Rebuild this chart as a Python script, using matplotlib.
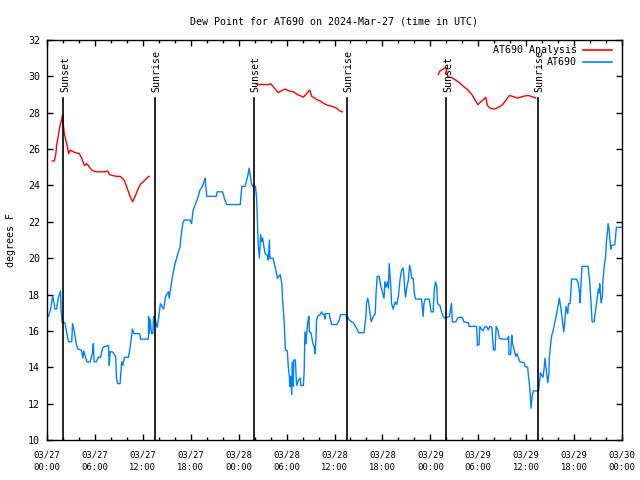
import numpy as np
import matplotlib
matplotlib.use("Agg")
import matplotlib.pyplot as plt
import matplotlib.transforms as mtransforms

nan = np.nan

# hours since 2024-03-27 00:00 UTC
obs_hours = [0.0, 0.2, 0.45, 0.7, 0.85, 1.0, 1.2, 1.4, 1.7, 1.75, 1.9, 2.25, 2.55, 2.7, 3.1, 3.2, 3.4,
             3.7, 3.9, 4.3, 4.5, 4.6, 5.0, 5.4, 5.7, 5.8, 5.9, 6.2, 6.4, 6.7, 7.0, 7.7, 7.8, 7.9, 8.2,
             8.6, 8.7, 8.85, 9.15, 9.35, 9.5, 9.7, 10.2, 10.4, 10.5, 10.7, 10.9, 11.6, 11.7, 12.7,
             12.72, 12.8, 12.9, 13.1, 13.25, 13.35, 13.5, 13.8, 14.0, 14.2, 14.6, 14.85, 15.2, 15.3,
             15.5, 15.75, 16.0, 16.2, 16.45, 16.65, 16.85, 17.05, 17.2, 17.9, 18.1, 18.3, 18.6, 18.95,
             19.15, 19.4, 19.7, 19.8, 19.9, 20.0, 21.2, 21.3, 22.0, 22.2, 22.5, 24.2, 24.3, 24.4, 24.8,
             25.0, 25.2, 25.3, 25.45, 25.6, 25.75, 26.1, 26.25, 26.35, 26.45, 26.6, 26.75, 26.9, 27.0,
             27.3, 27.6, 27.7, 27.85, 27.9, 28.3, 28.7, 28.85, 29.2, 29.4, 29.5, 29.7, 29.8, 29.85,
             30.1, 30.2, 30.35, 30.4, 30.5, 30.65, 30.7, 30.85, 30.9, 31.1, 31.25, 31.5, 31.7, 31.8,
             32.1, 32.2, 32.3, 32.45, 32.5, 32.65, 32.8, 32.85, 33.05, 33.3, 33.45, 33.55, 33.7, 33.75,
             33.9, 34.2, 34.4, 34.55, 34.7, 34.8, 34.85, 35.35, 35.5, 35.65, 36.3, 36.6, 36.75, 37.45,
             37.5, 37.7, 37.85, 38.15, 38.35, 38.55, 38.75, 39.05, 39.7, 39.8, 39.95, 40.0, 40.15, 40.3,
             40.45, 40.6, 40.85, 41.1, 41.2, 41.35, 41.6, 41.8, 42.05, 42.2, 42.3, 42.45, 42.6, 42.75,
             42.85, 43.05, 43.15, 43.35, 43.6, 43.8, 44.0, 44.2, 44.4, 44.6, 44.7, 44.8, 44.9, 45.0,
             45.25, 45.4, 45.55, 45.65, 45.85, 46.0, 46.15, 46.9, 47.05, 47.1, 47.2, 47.35, 47.85, 48.1,
             48.35, 48.5, 48.65, 48.8, 48.9, 49.2, 49.4, 49.6, 49.85, 50.4, 50.55, 50.65, 50.75, 51.2,
             51.35, 51.55, 52.0, 52.2, 52.75, 52.85, 53.8, 53.9, 54.1, 54.2, 54.4, 54.6, 54.8, 55.05,
             55.25, 55.45, 55.7, 55.8, 55.9, 56.1, 56.25, 56.45, 56.65, 56.95, 57.65, 57.8, 57.85, 58.05,
             58.2, 58.3, 58.5, 58.7, 58.85, 59.05, 59.2, 59.75, 59.85, 60.2, 60.25, 60.4, 60.5, 60.6,
             60.75, 60.9, 61.55, 61.7, 61.8, 61.95, 62.1, 62.25, 62.35, 62.45, 62.6, 62.7, 62.85, 62.9,
             63.1, 63.2, 63.4, 63.55, 63.7, 63.85, 64.05, 64.15, 64.35, 64.55, 64.7, 64.8, 65.0, 65.2,
             65.3, 65.5, 65.6, 65.7, 66.3, 66.5, 66.7, 66.75, 66.9, 67.0, 67.75, 67.95, 68.15, 68.25,
             68.5, 68.6, 68.8, 68.95, 69.05, 69.15, 69.2, 69.35, 69.4, 69.55, 69.6, 69.75, 69.95, 70.05,
             70.2, 70.25, 70.4, 70.45, 70.6, 70.7, 71.1, 71.2, 71.3, 72.0]
obs_dewpt = [16.8, 16.8, 17.2, 17.9, 17.6, 17.2, 17.2, 17.8, 18.2, 17.2, 16.45, 16.45, 15.7, 15.4, 15.4,
             16.4, 16.0, 15.2, 15.0, 14.95, 14.5, 14.9, 14.3, 14.3, 14.8, 15.3, 14.3, 14.3, 14.55, 14.55,
             15.1, 15.2, 14.1, 14.85, 14.85, 14.6, 13.4, 13.1, 13.1, 14.3, 14.1, 14.55, 14.55, 15.05,
             15.4, 16.1, 15.85, 15.85, 15.55, 15.55, 16.8, 15.85, 16.65, 15.85, 15.85, 16.8, 16.7, 16.2,
             16.8, 17.5, 17.2, 17.9, 18.15, 17.8, 18.4, 19.1, 19.65, 19.95, 20.35, 20.6, 21.45, 22.0,
             22.1, 22.1, 21.9, 22.65, 23.0, 23.4, 23.75, 23.9, 24.25, 24.4, 23.9, 23.4, 23.4, 23.65,
             23.65, 23.3, 22.95, 22.95, 23.5, 23.95, 23.95, 24.3, 24.65, 24.95, 24.6, 24.1, 23.95, 23.95,
             23.3, 22.0, 20.7, 20.0, 21.3, 20.9, 21.1, 20.25, 20.15, 19.9, 21.0, 20.0, 20.0, 19.25, 18.9,
             19.1, 18.6, 17.7, 16.5, 15.5, 14.95, 14.9, 14.1, 13.5, 12.95, 13.5, 12.5, 14.3, 12.95, 14.4,
             14.4, 13.0, 13.3, 13.4, 13.0, 13.0, 13.75, 15.95, 15.3, 15.8, 16.5, 16.8, 15.95, 15.9, 15.3,
             15.15, 14.75, 15.7, 16.6, 16.8, 16.9, 17.05, 16.9, 16.9, 16.65, 16.95, 16.95, 16.6, 16.35,
             16.35, 16.6, 16.9, 16.9, 16.65, 16.75, 16.6, 16.5, 16.45, 16.3, 16.15, 15.9, 15.9, 16.3,
             16.9, 17.5, 17.8, 17.5, 16.95, 16.5, 16.8, 16.95, 18.05, 19.0, 19.0, 18.45, 18.05, 17.8,
             18.7, 18.4, 18.7, 18.35, 19.7, 18.45, 17.5, 17.2, 17.6, 17.45, 17.9, 18.8, 19.35, 19.45,
             19.0, 18.25, 17.85, 18.25, 18.8, 19.6, 19.35, 18.9, 18.9, 18.05, 17.75, 17.75, 17.0, 16.8,
             17.5, 17.75, 17.75, 17.05, 17.05, 18.3, 18.7, 18.45, 17.5, 17.4, 17.05, 16.8, 16.7, 16.8,
             17.25, 17.5, 16.5, 16.5, 16.65, 16.75, 16.75, 16.5, 16.45, 16.25, 16.25, 15.2, 15.25, 16.25,
             16.1, 16.0, 16.2, 16.25, 16.05, 16.25, 16.2, 15.6, 14.95, 14.95, 16.25, 16.05, 15.6, 15.55,
             15.55, 15.7, 14.7, 14.7, 15.75, 15.3, 14.95, 14.6, 14.75, 14.5, 14.3, 14.25, 14.05, 14.0,
             13.65, 13.1, 12.55, 11.75, 12.4, 12.7, 12.7, 13.3, 13.7, 13.55, 13.45, 13.95, 14.5, 14.1,
             13.5, 13.15, 13.65, 14.55, 15.4, 15.75, 16.05, 16.4, 16.7, 17.05, 17.5, 17.8, 17.25, 16.5,
             15.95, 16.3, 17.35, 16.95, 17.5, 17.5, 18.15, 18.85, 18.85, 18.65, 18.05, 17.55, 18.85,
             19.55, 19.55, 18.75, 17.35, 16.5, 16.5, 16.85, 17.5, 17.95, 18.3, 18.1, 18.6, 17.75, 17.55,
             17.9, 18.7, 19.45, 20.1, 20.9, 21.55, 21.9, 21.55, 21.15, 20.5, 20.7, 20.75, 21.2, 21.7,
             21.7]

# analysis series, nan separates the three runs
ana_hours = [0.65, 0.9, 1.1, 1.2, 1.4, 1.55, 1.7, 1.85, 1.95, 2.05, 2.15, 2.35, 2.55, 2.7, 2.9, 3.3,
             3.6, 4.05, 4.35, 4.55, 4.7, 4.95, 5.15, 5.4, 5.6, 5.8, 6.2, 7.25, 7.5, 7.7, 7.8, 8.2, 8.7,
             9.15, 9.55, 9.75, 10.0, 10.2, 10.4, 10.7, 10.95, 11.25, 11.5, 11.75, 12.05, 12.4, 12.6,
             12.8, nan,
             26.2, 27.75, 28.0, 28.4, 28.95, 29.3, 29.8, 30.3, 30.85, 31.35, 31.9, 32.1, 32.9, 33.15,
             33.65, 34.2, 34.7, 35.2, 35.7, 36.25, 36.65, 37.0, nan,
             49.0, 49.2, 49.6, 49.95, 50.2, 50.6, 51.15, 51.65, 52.15, 52.7, 53.2, 53.6, 53.95, 54.2,
             54.6, 54.95, 55.15, 55.5, 56.0, 56.55, 57.05, 57.4, 57.9, 58.3, 58.95, 59.6, 60.25, 60.6,
             60.95, 61.2]
ana_dewpt = [25.35, 25.35, 25.7, 26.2, 26.7, 27.1, 27.4, 27.65, 27.9, 27.35, 26.9, 26.5, 26.15, 25.75,
             25.95, 25.85, 25.8, 25.75, 25.5, 25.25, 25.1, 25.2, 25.1, 24.95, 24.85, 24.8, 24.75, 24.75,
             24.8, 24.75, 24.6, 24.55, 24.5, 24.5, 24.35, 24.2, 23.9, 23.65, 23.4, 23.1, 23.3, 23.65,
             23.9, 24.1, 24.2, 24.35, 24.45, 24.5, nan,
             29.55, 29.55, 29.6, 29.4, 29.1, 29.2, 29.3, 29.2, 29.15, 29.0, 28.9, 28.85, 29.25, 28.9,
             28.75, 28.65, 28.5, 28.4, 28.35, 28.25, 28.1, 28.05, nan,
             30.1, 30.3, 30.4, 30.5, 29.95, 29.95, 29.8, 29.65, 29.45, 29.25, 29.0, 28.7, 28.45, 28.55,
             28.7, 28.85, 28.4, 28.25, 28.2, 28.3, 28.45, 28.65, 28.95, 28.9, 28.8, 28.9, 28.95, 28.9,
             28.85, 28.8]

sun_hours = [2.04, 13.55, 25.95, 37.6, 50.0, 61.5]
sun_labels = ["Sunset", "Sunrise", "Sunset", "Sunrise", "Sunset", "Sunrise"]

tick_hours = list(range(0, 73, 6))
tick_labels = ["03/27\n00:00", "03/27\n06:00", "03/27\n12:00", "03/27\n18:00",
               "03/28\n00:00", "03/28\n06:00", "03/28\n12:00", "03/28\n18:00",
               "03/29\n00:00", "03/29\n06:00", "03/29\n12:00", "03/29\n18:00",
               "03/30\n00:00"]

plt.rcParams['font.family'] = ['DejaVu Sans Mono']
fs = 7.2

fig = plt.figure(figsize=(6.4, 4.8), dpi=100)
ax = fig.add_axes([47 / 640, 40 / 480, 575 / 640, 400 / 480])

ax.plot(obs_hours, obs_dewpt, color='#0080ff', lw=1.0)
ax.plot(ana_hours, ana_dewpt, color='#ff0000', lw=1.0)

trans = mtransforms.blended_transform_factory(ax.transData, ax.transAxes)
for h, lab in zip(sun_hours, sun_labels):
    ax.plot([h, h], [0, 0.855], color='black', lw=1.2, transform=trans)
    ax.text(h + 0.2, 0.87, lab, rotation=90, ha='center', va='bottom',
            fontsize=fs, transform=trans)

ax.set_xlim(0, 72)
ax.set_ylim(10, 32)
ax.set_xticks(tick_hours)
ax.set_xticklabels(tick_labels, fontsize=6.4, linespacing=1.5)
ax.set_xticks(range(0, 73, 2), minor=True)
ax.set_yticks(range(10, 33, 2))
ax.tick_params(axis='y', labelsize=fs)
ax.tick_params(which='both', direction='in', top=True, right=True, width=1)
ax.tick_params(which='major', length=4.5, pad=5)
ax.tick_params(axis='x', which='major', pad=7.5)
ax.tick_params(which='minor', length=2.2)
for s in ax.spines.values():
    s.set_linewidth(1)

ax.set_ylabel("degrees F", fontsize=fs, labelpad=9)
ax.set_title("Dew Point for AT690 on 2024-Mar-27 (time in UTC)", fontsize=fs, pad=11)

# legend drawn gnuplot style: text right aligned, sample line after it
leg = [("AT690 Analysis", '#ff0000'), ("AT690", '#0080ff')]
for i, (name, col) in enumerate(leg):
    yy = 1 - (10 + 12.5 * i) / 400
    ax.text((577 - 47) / 575, yy, name, ha='right', va='center', fontsize=fs,
            transform=ax.transAxes)
    ax.plot([(583 - 47) / 575, (612 - 47) / 575], [yy, yy], color=col, lw=1.2,
            transform=ax.transAxes, clip_on=False)

fig.savefig("out.png", dpi=100)
